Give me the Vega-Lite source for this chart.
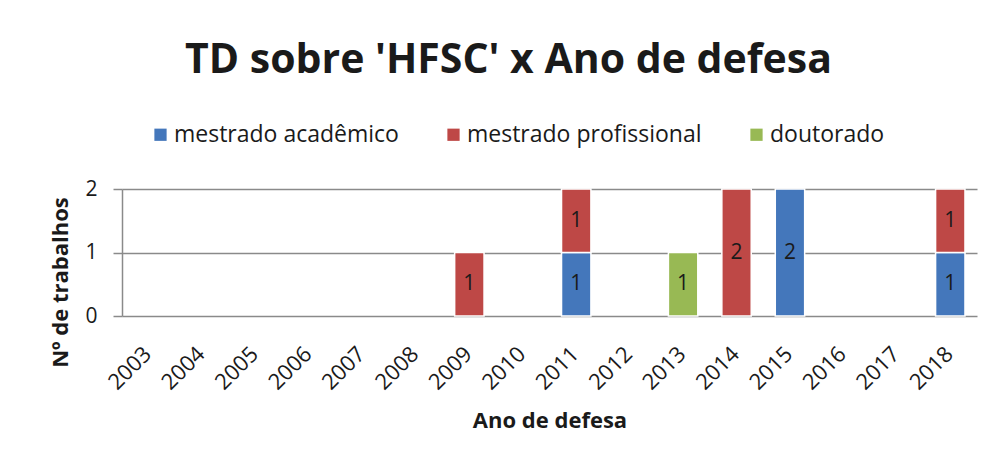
{
  "$schema": "https://vega.github.io/schema/vega-lite/v6.json",
  "width": 855,
  "height": 127,
  "autosize": "none",
  "padding": {"left": 122, "top": 189, "right": 15, "bottom": 145},
  "background": "white",
  "config": {
    "view": {"stroke": null},
    "font": "Open Sans",
    "axisY": {
      "titleFontSize": 22,
      "titleFontWeight": "bold",
      "titleColor": "#1a1a1a",
      "titleX": -62,
      "titleY": 93,
      "titleAngle": -90,
      "titleAlign": "center",
      "titleBaseline": "middle",
      "format": "d",
      "labelFontSize": 21,
      "labelColor": "#1a1a1a",
      "labelPadding": 16,
      "grid": true,
      "gridColor": "#8a8a8a",
      "gridWidth": 1.5,
      "domainColor": "#8a8a8a",
      "domainWidth": 1.5,
      "tickColor": "#8a8a8a",
      "tickWidth": 1.5,
      "tickSize": 9
    }
  },
  "title": {
    "text": "TD sobre 'HFSC' x Ano de defesa",
    "fontSize": 41,
    "font": "Open Sans",
    "fontWeight": "bold",
    "color": "#1a1a1a",
    "anchor": "middle",
    "dx": -41,
    "offset": 41
  },
  "data": {
    "values": [
      {"ano": "2009", "tipo": "mestrado profissional", "n": 1},
      {"ano": "2011", "tipo": "mestrado acadêmico", "n": 1},
      {"ano": "2011", "tipo": "mestrado profissional", "n": 1},
      {"ano": "2013", "tipo": "doutorado", "n": 1},
      {"ano": "2014", "tipo": "mestrado profissional", "n": 2},
      {"ano": "2015", "tipo": "mestrado acadêmico", "n": 2},
      {"ano": "2018", "tipo": "mestrado acadêmico", "n": 1},
      {"ano": "2018", "tipo": "mestrado profissional", "n": 1}
    ]
  },
  "transform": [
    {"stack": "n", "groupby": ["ano"], "sort": [{"field": "tipo", "order": "ascending"}], "as": ["y0", "y1"]},
    {"calculate": "(datum.y0 + datum.y1) / 2", "as": "ymid"}
  ],
  "encoding": {
    "x": {
      "field": "ano",
      "type": "nominal",
      "scale": {
        "domain": ["2003","2004","2005","2006","2007","2008","2009","2010","2011","2012","2013","2014","2015","2016","2017","2018"],
        "paddingInner": 0.45,
        "paddingOuter": 0.225
      },
      "axis": {
        "title": "Ano de defesa",
        "titleFontSize": 22,
        "titleFontWeight": "bold",
        "titleColor": "#1a1a1a",
        "titleY": 104,
        "titleBaseline": "middle",
        "labelAngle": -45,
        "labelFontSize": 22,
        "labelColor": "#1a1a1a",
        "labelPadding": 27,
        "labelOffset": -8,
        "ticks": false,
        "domain": false
      }
    }
  },
  "layer": [
    {
      "mark": {"type": "bar", "stroke": "white", "strokeWidth": 1.5},
      "encoding": {
        "y": {
          "field": "y0",
          "type": "quantitative",
          "scale": {"domain": [0, 2]},
          "title": "Nº de trabalhos",
          "axis": {"values": [0, 1, 2]}
        },
        "y2": {"field": "y1"},
        "color": {
          "field": "tipo",
          "type": "nominal",
          "scale": {
            "domain": ["mestrado acadêmico", "mestrado profissional", "doutorado"],
            "range": ["#4477BB", "#BE4846", "#98B954"]
          },
          "legend": {
            "title": null,
            "orient": "none",
            "direction": "horizontal",
            "legendX": 27,
            "legendY": -66,
            "symbolType": "square",
            "symbolSize": 150,
            "symbolStrokeWidth": 0,
            "labelFontSize": 23,
            "labelColor": "#1a1a1a",
            "labelLimit": 0,
            "columnPadding": 43,
            "labelOffset": 2
          }
        }
      }
    },
    {
      "mark": {"type": "text", "fontSize": 21, "color": "#1a1a1a"},
      "encoding": {
        "y": {"field": "ymid", "type": "quantitative", "title": "Nº de trabalhos", "axis": {"values": [0, 1, 2]}},
        "text": {"field": "n", "type": "quantitative"}
      }
    }
  ]
}
